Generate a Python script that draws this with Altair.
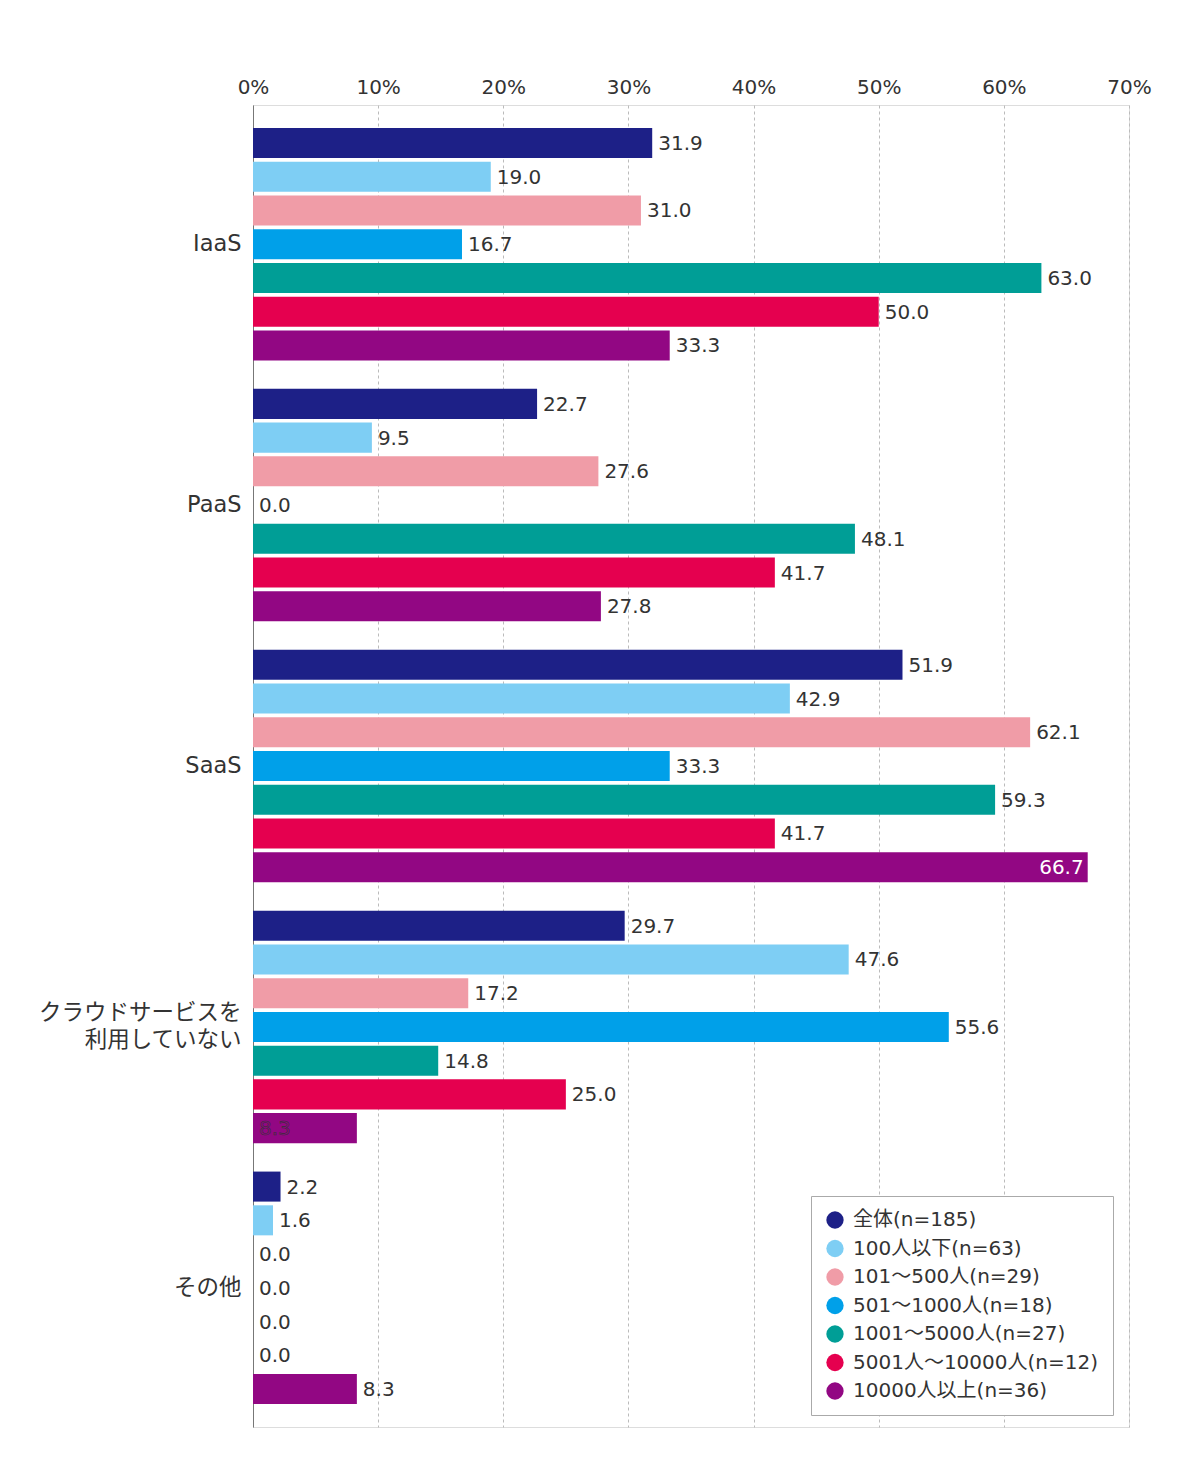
import altair as alt
import pandas as pd

categories = ["IaaS", "PaaS", "SaaS", "クラウドサービスを\n利用していない", "その他"]
series = ["全体(n=185)", "100人以下(n=63)", "101〜500人(n=29)", "501〜1000人(n=18)",
          "1001〜5000人(n=27)", "5001人〜10000人(n=12)", "10000人以上(n=36)"]
colors = ["#1d2087", "#7ecef4", "#f09ca7", "#00a0e9", "#009e96", "#e5004f", "#920783"]

v_all = [31.9, 22.7, 51.9, 29.7, 2.2]
v_100 = [19.0, 9.5, 42.9, 47.6, 1.6]
v_500 = [31.0, 27.6, 62.1, 17.2, 0.0]
v_1000 = [16.7, 0.0, 33.3, 55.6, 0.0]
v_5000 = [63.0, 48.1, 59.3, 14.8, 0.0]
v_10000 = [50.0, 41.7, 41.7, 25.0, 0.0]
v_over = [33.3, 27.8, 66.7, 8.3, 8.3]

values = [v_all, v_100, v_500, v_1000, v_5000, v_10000, v_over]

rows = []
for s, vals in zip(series, values):
    for c, v in zip(categories, vals):
        style = "out"
        if s == series[6] and c == categories[2]:
            style = "inside_white"
        elif s == series[6] and c == categories[3]:
            style = "inside_start"
        rows.append({"cat": c, "series": s, "value": v, "label": f"{v:.1f}", "style": style,
                     "zero": 0})
df = pd.DataFrame(rows)

FONT = "DejaVu Sans, Noto Sans CJK JP"

y_enc = alt.Y("cat:N", sort=categories,
              scale=alt.Scale(paddingInner=0.109, paddingOuter=0.088),
              axis=alt.Axis(title=None, labelFontSize=22.5, labelColor="#333", labelFont=FONT,
                            ticks=False, domain=True, domainColor="#777", labelPadding=12,
                            labelLimit=400,
                            labelOffset={"condition": {"test": "indexof(datum.value, '\\n') >= 0",
                                                       "value": -14}, "value": 0},
                            labelExpr="split(datum.label, '\\n')", labelLineHeight=27))
yoff = alt.YOffset("series:N", sort=series, scale=alt.Scale(paddingInner=0.11, paddingOuter=0))
x_scale = alt.Scale(domain=[0, 70], nice=False)

bars = alt.Chart(df).mark_bar().encode(
    x=alt.X("value:Q", scale=x_scale,
            axis=alt.Axis(orient="top", title=None, values=[0, 10, 20, 30, 40, 50, 60, 70],
                          labelExpr="datum.value + '%'", labelFontSize=20, labelColor="#333",
                          labelFont=FONT, ticks=False, domain=False, labelPadding=8,
                          labelFlush=False,
                          grid=True, gridColor="#bbb", gridDash=[3, 3], gridWidth=1)),
    y=y_enc,
    yOffset=yoff,
    color=alt.Color("series:N", sort=series,
                    scale=alt.Scale(domain=series, range=colors),
                    legend=alt.Legend(title=None, orient="none", legendX=558, legendY=1091,
                                      symbolType="circle", symbolSize=300, symbolStrokeWidth=0,
                                      labelFontSize=20, labelFont=FONT, labelColor="#333",
                                      rowPadding=8.5, labelOffset=8, padding=14,
                                      fillColor="white", strokeColor="#aaa",
                                      labelLimit=400)),
)

txt_out = alt.Chart(df).transform_filter("datum.style == 'out'").mark_text(
    align="left", baseline="middle", dx=6, dy=1, fontSize=20, font=FONT, color="#333"
).encode(x=alt.X("value:Q", scale=x_scale), y=alt.Y("cat:N", sort=categories), yOffset=yoff,
         text="label:N")

txt_white = alt.Chart(df).transform_filter("datum.style == 'inside_white'").mark_text(
    align="right", baseline="middle", dx=-4, dy=1, fontSize=20, font=FONT, color="white"
).encode(x=alt.X("value:Q", scale=x_scale), y=alt.Y("cat:N", sort=categories), yOffset=yoff,
         text="label:N")

txt_start = alt.Chart(df).transform_filter("datum.style == 'inside_start'").mark_text(
    align="left", baseline="middle", dx=6, dy=1, fontSize=20, font=FONT, color="#920783",
    stroke="#333", strokeWidth=0.6
).encode(x=alt.X("zero:Q", scale=x_scale), y=alt.Y("cat:N", sort=categories), yOffset=yoff,
         text="label:N")

chart = alt.layer(bars, txt_out, txt_white, txt_start).properties(
    width=876, height=1322,
    autosize=alt.AutoSizeParams(type="none"),
    padding={"left": 245, "top": 97, "right": 60, "bottom": 40},
).configure_view(stroke="#999", strokeWidth=1).configure(background="white")

chart.save("out.html", embed_options={"renderer": "svg", "actions": False})
